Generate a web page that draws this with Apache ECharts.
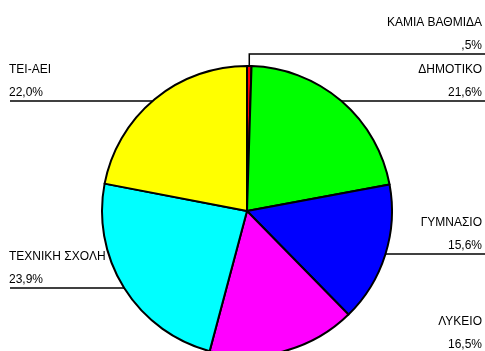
<!DOCTYPE html>
<html>
<head>
<meta charset="utf-8">
<script src="https://cdn.jsdelivr.net/npm/echarts@6/dist/echarts.min.js"></script>
<style>
  html, body { margin: 0; padding: 0; background: #fff; }
  #chart { width: 485px; height: 351px; }
</style>
</head>
<body>
<div id="chart"></div>
<script>
// Educational level shares (percent)
const categories = ['ΚΑΜΙΑ ΒΑΘΜΙΔΑ', 'ΔΗΜΟΤΙΚΟ', 'ΓΥΜΝΑΣΙΟ', 'ΛΥΚΕΙΟ', 'ΤΕΧΝΙΚΗ ΣΧΟΛΗ', 'ΤΕΙ-ΑΕΙ'];
const values = [0.5, 21.6, 15.6, 16.5, 23.9, 22.0];
const colors = ['#ff0000', '#00ff00', '#0000ff', '#ff00ff', '#00ffff', '#ffff00'];

// Pie geometry and label placement
const CX = 247, CY = 211, R = 145;
const W = 485;
const FONT = 'Liberation Sans, Arial, sans-serif';
const labelPlaces = [
  { side: 'right', nameY: 20, vertical: true },
  { side: 'right', nameY: 67 },
  { side: 'right', nameY: 220 },
  { side: 'right', nameY: 319 },
  { side: 'left', nameY: 254 },
  { side: 'left', nameY: 67 }
];

function fmtPct(v) {
  let s = v.toFixed(1).replace('.', ',');
  if (s.startsWith('0,')) s = s.slice(1);
  return s + '%';
}

const total = values.reduce((a, b) => a + b, 0);
const midAngles = [];
let acc = 0;
values.forEach(v => {
  midAngles.push(((acc + v / 2) / total) * 2 * Math.PI);
  acc += v;
});

const chart = echarts.init(document.getElementById('chart'), null, { renderer: 'canvas' });

chart.setOption({
  animation: false,
  backgroundColor: '#ffffff',
  series: [{
    type: 'pie',
    center: [CX, CY],
    radius: R,
    startAngle: 90,
    clockwise: true,
    avoidLabelOverlap: false,
    data: categories.map((name, i) => ({
      name: name,
      value: values[i],
      itemStyle: { color: colors[i] }
    })),
    itemStyle: { borderColor: '#000', borderWidth: 2 },
    emphasis: { disabled: true },
    label: {
      show: true,
      position: 'outside',
      color: '#000',
      fontFamily: FONT,
      fontSize: 12,
      formatter: p => '{n|' + p.name + '}\n{v|' + fmtPct(p.value) + '}',
      rich: {
        n: { fontSize: 12, lineHeight: 23, color: '#000', fontFamily: FONT },
        v: { fontSize: 12, lineHeight: 23, color: '#000', fontFamily: FONT }
      }
    },
    labelLine: {
      show: true,
      lineStyle: { color: '#000', width: 1.5 }
    },
    labelLayout: function (params) {
      const i = params.dataIndex;
      const pl = labelPlaces[i];
      const lineY = pl.nameY + 34;
      const top = pl.nameY - 9;
      let pts;
      if (pl.vertical) {
        const a = midAngles[i];
        const ex = CX + R * Math.sin(a);
        const ey = CY - R * Math.cos(a);
        pts = [[ex, ey], [ex, lineY], [W, lineY]];
      } else {
        const dy = lineY - CY;
        const dx = Math.sqrt(Math.max(0, R * R - dy * dy));
        if (pl.side === 'right') {
          const ex = CX + dx;
          pts = [[ex, lineY], [ex, lineY], [W, lineY]];
        } else {
          const ex = CX - dx;
          pts = [[ex, lineY], [ex, lineY], [10, lineY]];
        }
      }
      return {
        x: pl.side === 'right' ? 482 : 9,
        y: top,
        align: pl.side === 'right' ? 'right' : 'left',
        verticalAlign: 'top',
        labelLinePoints: pts
      };
    }
  }]
});
</script>
</body>
</html>
